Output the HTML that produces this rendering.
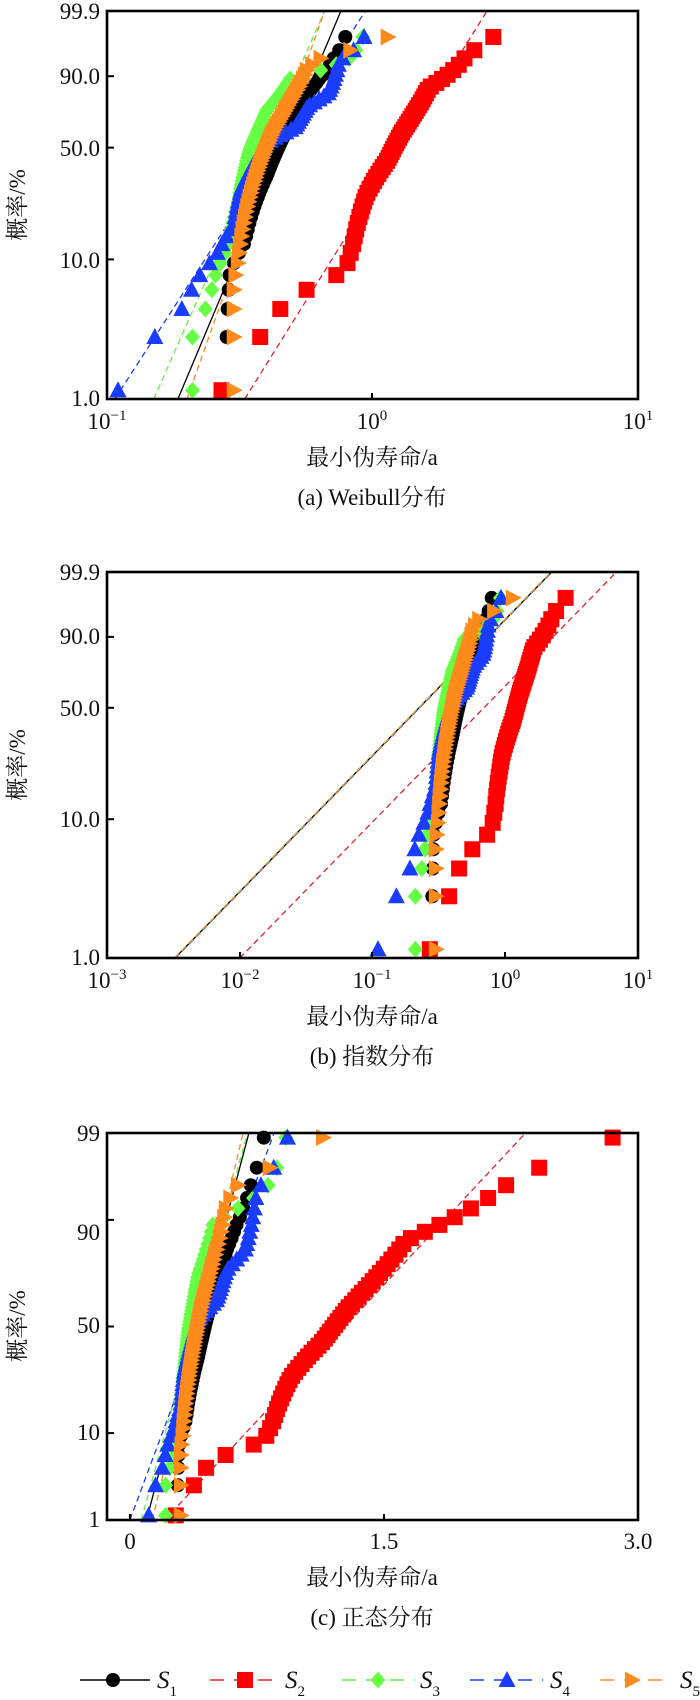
<!DOCTYPE html>
<html><head><meta charset="utf-8">
<style>
html,body{margin:0;padding:0;background:#fff;}
svg{display:block;}
text{font-family:"Liberation Serif","Noto Serif CJK SC",serif;fill:#111;}
</style></head>
<body>
<svg id="s" xmlns="http://www.w3.org/2000/svg" width="700" height="1700" viewBox="0 0 700 1700">
<defs>
<clipPath id="ca"><rect x="107" y="11" width="531" height="388"/></clipPath>
<clipPath id="cb"><rect x="107" y="572" width="531" height="386"/></clipPath>
<clipPath id="cc"><rect x="107" y="1133" width="531" height="387"/></clipPath>
</defs>
<g id="g"></g>
<g font-size="23">
<text x="100" y="19" text-anchor="end">99.9</text>
<text x="100" y="84" text-anchor="end">90.0</text>
<text x="100" y="156" text-anchor="end">50.0</text>
<text x="100" y="268" text-anchor="end">10.0</text>
<text x="100" y="406" text-anchor="end">1.0</text>
<text x="107" y="429" text-anchor="middle">10<tspan font-size="15" dy="-9">−1</tspan></text>
<text x="372" y="429" text-anchor="middle">10<tspan font-size="15" dy="-9">0</tspan></text>
<text x="638" y="429" text-anchor="middle">10<tspan font-size="15" dy="-9">1</tspan></text>
<text x="372" y="465" text-anchor="middle">最小伪寿命/a</text>
<text x="372" y="505" text-anchor="middle">(a) Weibull分布</text>
<text transform="translate(25,205) rotate(-90)" text-anchor="middle">概率/%</text>

<text x="100" y="580" text-anchor="end">99.9</text>
<text x="100" y="644" text-anchor="end">90.0</text>
<text x="100" y="716" text-anchor="end">50.0</text>
<text x="100" y="827" text-anchor="end">10.0</text>
<text x="100" y="965" text-anchor="end">1.0</text>
<text x="107" y="988" text-anchor="middle">10<tspan font-size="15" dy="-9">−3</tspan></text>
<text x="240" y="988" text-anchor="middle">10<tspan font-size="15" dy="-9">−2</tspan></text>
<text x="372" y="988" text-anchor="middle">10<tspan font-size="15" dy="-9">−1</tspan></text>
<text x="505" y="988" text-anchor="middle">10<tspan font-size="15" dy="-9">0</tspan></text>
<text x="638" y="988" text-anchor="middle">10<tspan font-size="15" dy="-9">1</tspan></text>
<text x="372" y="1024" text-anchor="middle">最小伪寿命/a</text>
<text x="372" y="1064" text-anchor="middle">(b) 指数分布</text>
<text transform="translate(25,765) rotate(-90)" text-anchor="middle">概率/%</text>

<text x="100" y="1141" text-anchor="end">99</text>
<text x="100" y="1240" text-anchor="end">90</text>
<text x="100" y="1333" text-anchor="end">50</text>
<text x="100" y="1440" text-anchor="end">10</text>
<text x="100" y="1527" text-anchor="end">1</text>
<text x="130" y="1549" text-anchor="middle">0</text>
<text x="384" y="1549" text-anchor="middle">1.5</text>
<text x="638" y="1549" text-anchor="middle">3.0</text>
<text x="372" y="1585" text-anchor="middle">最小伪寿命/a</text>
<text x="372" y="1625" text-anchor="middle">(c) 正态分布</text>
<text transform="translate(25,1326) rotate(-90)" text-anchor="middle">概率/%</text>
</g>
</svg>
<script>
(function(){
var G=document.getElementById("g");
var out=[];
function tw(p){return Math.log(-Math.log(1-p));}
var T1=tw(0.999),T0=tw(0.01);
function ya(p){return 11+(T1-tw(p))*388/(T1-T0);}
function yb(p){return 572+(T1-tw(p))*386/(T1-T0);}
function ninv(p){
 var a=[-39.69683028665376,220.9460984245205,-275.9285104469687,138.3577518672690,-30.66479806614716,2.506628277459239];
 var b=[-54.47609879822406,161.5858368580409,-155.6989798598866,66.80131188771972,-13.28068155288572];
 var c=[-0.007784894002430293,-0.3223964580411365,-2.400758277161838,-2.549732539343734,4.374664141464968,2.938163982698783];
 var d=[0.007784695709041462,0.3224671290700398,2.445134137142996,3.754408661907416];
 var q,r;
 if(p<0.02425){q=Math.sqrt(-2*Math.log(p));return (((((c[0]*q+c[1])*q+c[2])*q+c[3])*q+c[4])*q+c[5])/((((d[0]*q+d[1])*q+d[2])*q+d[3])*q+1);}
 if(p>1-0.02425){q=Math.sqrt(-2*Math.log(1-p));return -(((((c[0]*q+c[1])*q+c[2])*q+c[3])*q+c[4])*q+c[5])/((((d[0]*q+d[1])*q+d[2])*q+d[3])*q+1);}
 q=p-0.5;r=q*q;return (((((a[0]*r+a[1])*r+a[2])*r+a[3])*r+a[4])*r+a[5])*q/(((((b[0]*r+b[1])*r+b[2])*r+b[3])*r+b[4])*r+1);
}
var Z1=ninv(0.99);
function yc(p){return 1133+(Z1-ninv(p))*387/(2*Z1);}
function xa(x){return 107+(Math.log10(x)+1)*265.5;}
function xb(x){return 107+(Math.log10(x)+3)*132.75;}
function xc(x){return 130+x*169.33;}

var S=[
 {col:"#000",lc:"#000",dash:"",m:"c",an:[[0.0116,0.28],[0.08,0.29],[0.13,0.33],[0.35,0.40],[0.59,0.47],[0.82,0.57],[0.89,0.63],[0.96,0.72],[0.988,0.79]],
  wl:[0.185,0.76],el:0.00325,nl:[0.40,0.13]},
 {col:"#ff0000",lc:"#e02030",dash:"6,4",m:"s",an:[[0.0116,0.27],[0.031,0.40],[0.05,0.47],[0.068,0.63],[0.083,0.79],[0.12,0.84],[0.27,0.95],[0.43,1.14],[0.59,1.29],[0.85,1.63],[0.92,2.0],[0.967,2.3],[0.988,2.85]],
  wl:[0.33,2.7],el:0.0100,nl:[1.27,0.458]},
 {col:"#66ff44",lc:"#66ee44",dash:"6,4",m:"d",an:[[0.0116,0.21],[0.031,0.21],[0.05,0.245],[0.068,0.25],[0.12,0.285],[0.23,0.31],[0.49,0.345],[0.73,0.40],[0.89,0.49],[0.95,0.80],[0.988,0.92]],
  wl:[0.15,0.66],el:0.00322,nl:[0.38,0.135]},
 {col:"#1a3cff",lc:"#1a3cff",dash:"6,4",m:"t",an:[[0.0116,0.11],[0.031,0.16],[0.05,0.205],[0.068,0.21],[0.085,0.234],[0.11,0.26],[0.17,0.30],[0.29,0.32],[0.53,0.40],[0.62,0.51],[0.75,0.57],[0.82,0.68],[0.95,0.75],[0.988,0.93]],
  wl:[0.107,0.94],el:0.00328,nl:[0.425,0.183]},
 {col:"#ff8a1c",lc:"#ff8a1c",dash:"6,4",m:"r",an:[[0.0116,0.30],[0.068,0.30],[0.09,0.31],[0.33,0.36],[0.59,0.42],[0.78,0.49],[0.93,0.57],[0.96,0.65],[0.988,1.14]],
  wl:[0.20,0.66],el:0.00324,nl:[0.40,0.115]}
];
function interp(an,p){
 if(p<=an[0][0])return an[0][1];
 for(var i=1;i<an.length;i++){if(p<=an[i][0]){var t=(p-an[i-1][0])/(an[i][0]-an[i-1][0]);
  return Math.exp(Math.log(an[i-1][1])+t*(Math.log(an[i][1])-Math.log(an[i-1][1])));}}
 return an[an.length-1][1];
}
var N=60,P=[];for(var i=0;i<N;i++)P.push((i+0.7)/(N+0.4));
function f(v){return (Math.round(v*10)/10).toString();}
function mk(m,x,y,col){
 x=+x;y=+y;
 if(m=="c")return '<circle cx="'+f(x)+'" cy="'+f(y)+'" r="7" fill="'+col+'"/>';
 if(m=="s")return '<rect x="'+f(x-8)+'" y="'+f(y-8)+'" width="16" height="16" fill="'+col+'"/>';
 if(m=="d")return '<polygon points="'+f(x)+','+f(y-8.5)+' '+f(x+7.5)+','+f(y)+' '+f(x)+','+f(y+8.5)+' '+f(x-7.5)+','+f(y)+'" fill="'+col+'"/>';
 if(m=="t")return '<polygon points="'+f(x)+','+f(y-9)+' '+f(x+8.5)+','+f(y+7)+' '+f(x-8.5)+','+f(y+7)+'" fill="'+col+'"/>';
 return '<polygon points="'+f(x-7)+','+f(y-8.5)+' '+f(x+9)+','+f(y)+' '+f(x-7)+','+f(y+8.5)+'" fill="'+col+'"/>';
}
function ln(x1,y1,x2,y2,s,clip){return '<line x1="'+f(x1)+'" y1="'+f(y1)+'" x2="'+f(x2)+'" y2="'+f(y2)+'" stroke="'+s.lc+'" stroke-width="1.3"'+(s.dash?' stroke-dasharray="'+s.dash+'"':'')+' clip-path="url(#'+clip+')"/>';}
S.forEach(function(s){
 out.push(ln(xa(s.wl[0]),ya(0.01),xa(s.wl[1]),ya(0.999),s,"ca"));
 out.push(ln(xb(s.el),yb(0.01),xb(s.el*687.3),yb(0.999),s,"cb"));
 var m=s.nl[0],sd=s.nl[1];
 out.push(ln(xc(m-Z1*sd),yc(0.01),xc(m+Z1*sd),yc(0.99),s,"cc"));
});
S.forEach(function(s){
 P.forEach(function(p){
  var v=interp(s.an,p);
  out.push(mk(s.m,xa(v),ya(p),s.col));
  out.push(mk(s.m,xb(v),yb(p),s.col));
  out.push(mk(s.m,xc(v),yc(p),s.col));
 });
});
function frame(x,y,w,h){out.push('<rect x="'+x+'" y="'+y+'" width="'+w+'" height="'+h+'" fill="none" stroke="#000" stroke-width="2.6"/>');}
frame(107,11,531,388);frame(107,572,531,386);frame(107,1133,531,387);
function tk(x1,y1,x2,y2){out.push('<line x1="'+f(x1)+'" y1="'+f(y1)+'" x2="'+f(x2)+'" y2="'+f(y2)+'" stroke="#000" stroke-width="2"/>');}
[0.9,0.5,0.1].forEach(function(p){tk(107,ya(p),114,ya(p));tk(107,yb(p),114,yb(p));tk(107,yc(p),114,yc(p));});
tk(372,399,372,393);
[240,372,505].forEach(function(x){tk(x,958,x,952);});
tk(130,1520,130,1514);tk(384,1520,384,1514);
var L=[[80,150,113,157],[210,282,245,285],[342,415,378,420],[470,543,507,550],[600,672,632,680]];
S.forEach(function(s,i){
 var l=L[i],y=1680;
 out.push('<line x1="'+l[0]+'" y1="'+y+'" x2="'+l[1]+'" y2="'+y+'" stroke="'+s.lc+'" stroke-width="1.6"'+(s.dash?' stroke-dasharray="14,10"':'')+'/>');
 out.push(mk(s.m,l[2],y,s.col));
 out.push('<text x="'+l[3]+'" y="'+(y+8)+'" font-size="25" font-style="italic">S<tspan font-size="15" font-style="normal" dy="8">'+(i+1)+'</tspan></text>');
});
G.innerHTML=out.join("");
})();
</script>
</body></html>
